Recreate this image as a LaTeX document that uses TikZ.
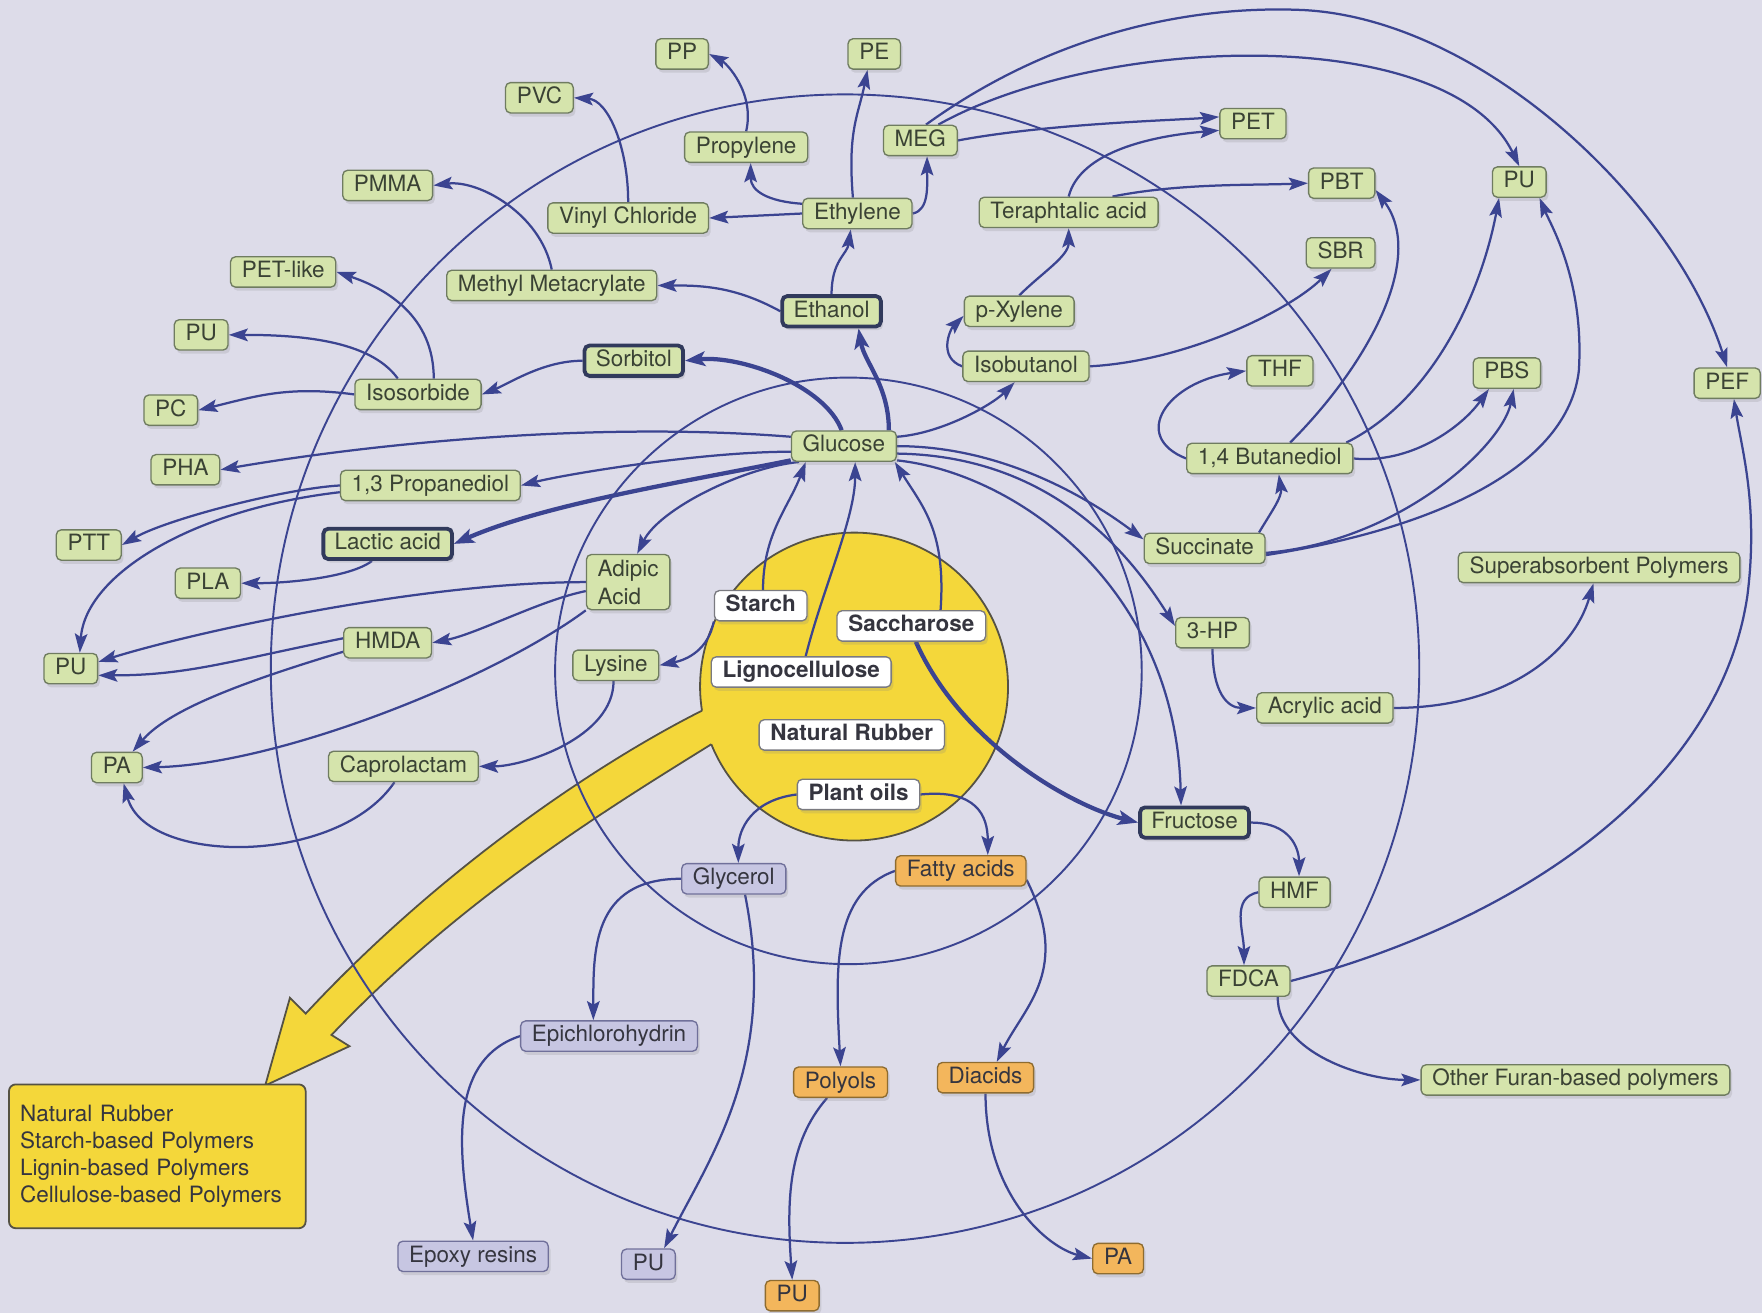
\documentclass[tikz,border=0pt]{standalone}
\usepackage{fontspec}
\setmainfont{TeX Gyre Heros}
\usetikzlibrary{arrows.meta,shadows}
\definecolor{bgc}{HTML}{DDDCE9}
\definecolor{gfill}{HTML}{D5E4AC}
\definecolor{gdraw}{HTML}{6F7C60}
\definecolor{gtext}{HTML}{3A4234}
\definecolor{tbord}{HTML}{313A5C}
\definecolor{lfill}{HTML}{C7C6E2}
\definecolor{ldraw}{HTML}{70709A}
\definecolor{ofill}{HTML}{F3B65C}
\definecolor{odraw}{HTML}{8E6C30}
\definecolor{ylw}{HTML}{F4D73A}
\definecolor{ydraw}{HTML}{555244}
\definecolor{navy}{HTML}{3B4491}
\definecolor{wdraw}{HTML}{7A7A80}
\definecolor{dtext}{HTML}{35353F}
\pgfdeclarelayer{bg}
\pgfdeclarelayer{edges}
\pgfsetlayers{bg,edges,main}
\begin{document}
\begin{tikzpicture}[x=0.5pt,y=-0.5pt,
  boxcore/.style={rounded corners=2.2pt, inner xsep=5pt, inner ysep=0pt,
    minimum height=13.5pt, font=\fontsize{10}{12.5}\selectfont, line width=0.6pt,
    drop shadow={shadow xshift=1pt, shadow yshift=-1.6pt, opacity=0.2}},
  sl/.style={text height=7.3pt, text depth=2.1pt},
  gcol/.style={fill=gfill, draw=gdraw, text=gtext},
  gnode/.style={boxcore, sl, gcol},
  gthick/.style={gnode, draw=tbord, line width=1.7pt},
  wnode/.style={boxcore, sl, fill=white, draw=wdraw, text=dtext,
    font=\fontsize{10}{12}\selectfont\bfseries},
  lnode/.style={boxcore, sl, fill=lfill, draw=ldraw, text=dtext},
  onode/.style={boxcore, sl, fill=ofill, draw=odraw, text=dtext},
  legendbox/.style={rounded corners=3pt, fill=ylw, draw=ydraw, line width=0.8pt,
    minimum width=132pt, minimum height=64pt, align=left, text width=122pt,
    inner xsep=5pt, text=dtext, font=\fontsize{10}{12}\selectfont},
  arr/.style={draw=navy, line width=1pt, -{Stealth[length=8.5pt,width=5.6pt,inset=1.6pt]}},
  tarr/.style={draw=navy, line width=1.9pt, -{Stealth[length=9pt,width=6.5pt,inset=2pt]}},
  ring/.style={draw=navy, line width=0.85pt}
]
\useasboundingbox (0,0) rectangle (1568,1168);

% ---------- background, yellow disk and rings ----------
\begin{pgfonlayer}{bg}
\fill[bgc] (0,0) rectangle (1568,1168);
\fill[ylw] (624.7,632.4) .. controls (530,680) and (390,775) .. (272,902) -- (258,888) -- (236,966) -- (311,931) -- (295,921) .. controls (410,800) and (540,720) .. (633.0,662.3) -- cycle;
\fill[ylw] (760,611) circle[radius=137];
\draw[ydraw, line width=0.8pt, line join=miter] (624.7,632.4) .. controls (530,680) and (390,775) .. (272,902) -- (258,888) -- (236,966) -- (311,931) -- (295,921) .. controls (410,800) and (540,720) .. (633.0,662.3);
\draw[ydraw, line width=0.8pt] (624.7,632.4) arc[start angle=171, end angle=518, radius=137];
\draw[ring] (752,595) circle[radius=511];
\draw[ring] (755,597) circle[radius=261];
\end{pgfonlayer}

% ---------- nodes ----------
\node[gnode] (pp) at (607,48) {PP};
\node[gnode] (pe) at (778,48) {PE};
\node[gnode] (pvc) at (480,87) {PVC};
\node[gnode] (prop) at (664,131) {Propylene};
\node[gnode] (meg) at (819,125) {MEG};
\node[gnode] (pet) at (1115,110) {PET};
\node[gnode] (pmma) at (345,165) {PMMA};
\node[gnode] (vc) at (559,194) {Vinyl Chloride};
\node[gnode] (eth) at (763,190) {Ethylene};
\node[gnode] (ta) at (951,189) {Teraphtalic acid};
\node[gnode] (pbt) at (1194,163) {PBT};
\node[gnode] (pu1) at (1352,162) {PU};
\node[gnode] (sbr) at (1193,225) {SBR};
\node[gnode] (petl) at (252,242) {PET-like};
\node[gnode] (mm) at (491,254) {Methyl Metacrylate};
\node[gthick] (etoh) at (740,277) {Ethanol};
\node[gnode] (px) at (907,277) {p-Xylene};
\node[gnode] (pu2) at (179,298) {PU};
\node[gthick] (sorb) at (564,321) {Sorbitol};
\node[gnode] (iso) at (372,351) {Isosorbide};
\node[gnode] (ibu) at (913,326) {Isobutanol};
\node[gnode] (thf) at (1139,330) {THF};
\node[gnode] (pbs) at (1341,332) {PBS};
\node[gnode] (pef) at (1537,341) {PEF};
\node[gnode] (pc) at (152,365) {PC};
\node[gnode] (glu) at (751,397) {Glucose};
\node[gnode] (pha) at (165,418) {PHA};
\node[gnode] (pdo) at (383,432) {1,3 Propanediol};
\node[gnode] (bdo) at (1130,408) {1,4 Butanediol};
\node[gnode] (ptt) at (79,485) {PTT};
\node[gthick] (lac) at (345,484) {Lactic acid};
\node[gnode] (succ) at (1072,488) {Succinate};
\node[gnode] (sap) at (1423,505) {Superabsorbent Polymers};
\node[gnode] (pla) at (185,519) {PLA};
\node[boxcore, gcol, align=left, inner ysep=2.3pt] (adip) at (559,518) {Adipic\\Acid};
\node[gnode] (hp) at (1079,563) {3-HP};
\node[gnode] (hmda) at (345,572) {HMDA};
\node[gnode] (pu3) at (63,595) {PU};
\node[gnode] (lys) at (548,592) {Lysine};
\node[gnode] (acr) at (1179,630) {Acrylic acid};
\node[gnode] (pa1) at (104,683) {PA};
\node[gnode] (capro) at (359,682) {Caprolactam};
\node[gthick] (fru) at (1063,732) {Fructose};
\node[gnode] (hmf) at (1152,794) {HMF};
\node[gnode] (fdca) at (1111,873) {FDCA};
\node[gnode] (other) at (1402,961) {Other Furan-based polymers};

\node[wnode] (starch) at (677,539) {Starch};
\node[wnode] (sacch) at (811,557) {Saccharose};
\node[wnode] (ligno) at (713,598) {Lignocellulose};
\node[wnode] (nr) at (758,654) {Natural Rubber};
\node[wnode] (oils) at (764,707) {Plant oils};

\node[lnode] (glyc) at (653,782) {Glycerol};
\node[lnode] (epi) at (542,922) {Epichlorohydrin};
\node[lnode] (epoxy) at (421,1118) {Epoxy resins};
\node[lnode] (pu4) at (577,1125) {PU};

\node[onode] (fatty) at (855,775) {Fatty acids};
\node[onode] (polyols) at (748,963) {Polyols};
\node[onode] (diacids) at (877,959) {Diacids};
\node[onode] (pu5) at (705,1153) {PU};
\node[onode] (pa2) at (995,1120) {PA};

\node[legendbox] (leg) at (140,1029) {Natural Rubber\\Starch-based Polymers\\Lignin-based Polymers\\Cellulose-based Polymers};

% ---------- connectors ----------
\begin{pgfonlayer}{edges}
% top cluster
\draw[arr] (vc.north) .. controls +(0,-50) and +(30,2) .. (pvc.east);
\draw[arr] (prop.north) .. controls +(8,-35) and +(15,8) .. (pp.east);
\draw[arr] (eth.170) .. controls +(-30,-2) and +(0,25) .. ([xshift=2pt]prop.south);
\draw[arr] (eth.west) -- (vc.east);
\draw[arr] ([xshift=-2pt]eth.north) .. controls +(-5,-60) and +(-8,40) .. ([xshift=-3pt]pe.south);
\draw[arr] (eth.east) .. controls +(15,-3) and +(0,25) .. ([xshift=3pt]meg.south);
\draw[arr] (etoh.north) .. controls +(0,-30) and +(-3,22) .. ([xshift=-3pt]eth.south);
\draw[arr] (etoh.west) .. controls +(-40,-22) and +(40,0) .. (mm.east);
\draw[arr] (mm.north) .. controls +(-10,-50) and +(40,-5) .. (pmma.east);
\draw[arr] (meg.east) .. controls +(80,-15) and +(-40,3) .. ([yshift=3pt]pet.west);
\draw[arr] (ta.north) .. controls +(10,-40) and +(-60,5) .. ([yshift=-3pt]pet.west);
\draw[arr] ([xshift=19.5pt]ta.north) .. controls +(60,-12) and +(-50,2) .. (pbt.west);
\draw[arr] ([xshift=8pt]meg.north) .. controls (980,30) and (1290,20) .. (pu1.north);
\draw[arr] ([xshift=2.5pt]meg.north) .. controls (950,20) and (1080,5) .. (1161,9) .. controls (1320,18) and (1490,180) .. (pef.north);
\draw[arr] (px.north) .. controls +(20,-20) and +(0,25) .. (ta.south);
\draw[arr] (ibu.west) .. controls +(-22,-8) and +(-12,12) .. ([yshift=-2pt]px.west);
\draw[arr] (glu.10) .. controls +(40,-3) and +(-20,20) .. ([xshift=-5pt]ibu.south);
\draw[arr] (ibu.east) .. controls +(90,-5) and +(-35,35) .. ([xshift=-4pt]sbr.south);
\draw[tarr] ([xshift=-1pt]glu.north) .. controls +(-15,-40) and +(50,-5) .. (sorb.east);
\draw[tarr] ([xshift=20pt]glu.north) .. controls +(0,-40) and +(5,30) .. ([xshift=12pt]etoh.south);
% left upper
\draw[arr] (sorb.west) .. controls +(-35,0) and +(25,-10) .. (iso.east);
\draw[arr] ([xshift=7pt]iso.north) .. controls +(0,-55) and +(45,15) .. (petl.east);
\draw[arr] ([xshift=-9pt]iso.north) .. controls +(-25,-35) and +(60,0) .. (pu2.east);
\draw[arr] (iso.west) .. controls +(-60,-8) and +(50,-12) .. (pc.east);
\draw[arr] (glu.170) .. controls +(-175,-14) and +(134,-23) .. (pha.east);
\draw[arr] (glu.186) .. controls +(-80,0) and +(40,-10) .. (pdo.east);
\draw[tarr] (glu.195) .. controls +(-100,20) and +(80,-35) .. (lac.east);
\draw[arr] ([xshift=-20pt]glu.south) .. controls +(-50,5) and +(20,-40) .. ([xshift=4pt]adip.north);
% into glucose
\draw[arr] ([xshift=1pt]starch.north) .. controls +(0,-50) and +(-15,40) .. ([xshift=-17pt]glu.south);
\draw[arr] ([xshift=2pt]ligno.north) .. controls +(15,-60) and +(0,50) .. ([xshift=5pt]glu.south);
\draw[arr] ([xshift=13pt]sacch.north) .. controls +(5,-70) and +(25,40) .. ([xshift=-1pt]glu.south east);
\draw[tarr] ([xshift=2pt]sacch.south) .. controls +(40,90) and +(-60,-15) .. (fru.west);
% glucose right
\draw[arr] (glu.east) .. controls +(100,0) and +(-40,-30) .. ([yshift=4pt]succ.west);
\draw[arr] (glu.352) .. controls +(143,2) and +(-36,-57) .. ([yshift=3pt]hp.west);
\draw[arr] (glu.345) .. controls +(103,11) and +(-5,-198) .. ([xshift=-6pt]fru.north);
% right cluster
\draw[arr] ([xshift=-3pt]succ.north east) .. controls +(12,-20) and +(3,20) .. ([xshift=4pt]bdo.south);
\draw[arr] (bdo.west) .. controls +(-50,-20) and +(-70,10) .. (thf.west);
\draw[arr] ([xshift=9pt]bdo.north) .. controls +(70,-70) and +(45,60) .. ([yshift=-3pt]pbt.east);
\draw[arr] ([xshift=34pt]bdo.north) .. controls +(80,-40) and +(-15,80) .. ([xshift=-9pt]pu1.south);
\draw[arr] (bdo.east) .. controls +(50,5) and +(-25,35) .. ([xshift=-8pt]pbs.south);
\draw[arr] ([yshift=-2pt]succ.east) .. controls +(120,-10) and +(-10,50) .. ([xshift=3pt]pbs.south);
\draw[arr] ([yshift=-3pt]succ.east) .. controls (1280,470) and (1395,415) .. (1405,330) .. controls (1410,250) and (1380,200) .. ([xshift=9pt]pu1.south);
\draw[arr] (hp.south) .. controls +(0,40) and +(-25,0) .. (acr.west);
\draw[arr] (acr.east) .. controls +(100,0) and +(-18,62) .. ([xshift=-2.5pt]sap.south);
\draw[arr] (fru.east) .. controls +(35,0) and +(0,-25) .. ([xshift=2pt]hmf.north);
\draw[arr] (hmf.west) .. controls +(-25,5) and +(0,-30) .. ([xshift=-2pt]fdca.north);
\draw[arr] (fdca.east) .. controls (1350,820) and (1530,700) .. (1555,530) .. controls (1565,450) and (1550,400) .. ([xshift=3pt]pef.south);
\draw[arr] ([xshift=13pt]fdca.south) .. controls +(0,50) and +(-50,0) .. (other.west);
% plant oils branch
\draw[arr] (oils.west) .. controls +(-40,5) and +(0,-30) .. ([xshift=2pt]glyc.north);
\draw[arr] (oils.east) .. controls +(50,-5) and +(0,-35) .. ([xshift=12pt]fatty.north);
\draw[arr] (glyc.west) .. controls +(-80,0) and +(0,-60) .. ([xshift=-7pt]epi.north);
\draw[arr] ([xshift=5pt]glyc.south) .. controls +(30,150) and +(40,-80) .. ([xshift=7pt]pu4.north);
\draw[arr] (epi.west) .. controls +(-60,20) and +(-15,-90) .. (epoxy.north);
\draw[arr] (fatty.west) .. controls +(-55,20) and +(-5,-90) .. (polyols.north);
\draw[arr] ([yshift=-4pt]fatty.east) .. controls +(40,80) and +(25,-50) .. ([xshift=5pt]diacids.north);
\draw[arr] ([xshift=-6pt]polyols.south) .. controls +(-35,40) and +(-5,-70) .. (pu5.north);
\draw[arr] (diacids.south) .. controls +(0,90) and +(-40,-10) .. (pa2.west);
% left lower
\draw[arr] ([xshift=-7pt]lac.south) .. controls +(-20,15) and +(40,0) .. (pla.east);
\draw[arr] (pdo.west) .. controls +(-50,3) and +(40,-23) .. (ptt.east);
\draw[arr] ([yshift=-3pt]pdo.west) .. controls +(-130,15) and +(5,-70) .. ([xshift=4pt]pu3.north);
\draw[arr] (adip.west) .. controls +(-150,0) and +(80,-25) .. ([yshift=3pt]pu3.east);
\draw[arr] ([yshift=-4pt]adip.west) .. controls +(-40,8) and +(40,-8) .. (hmda.east);
\draw[arr] (adip.south west) .. controls +(-82,61) and +(122,-3) .. (pa1.east);
\draw[arr] ([yshift=2pt]hmda.west) .. controls +(-100,20) and +(80,0) .. ([yshift=-3pt]pu3.east);
\draw[arr] ([yshift=-4pt]hmda.west) .. controls +(-100,30) and +(30,-35) .. ([xshift=7pt]pa1.north);
\draw[arr] ([xshift=-1pt]lys.south) .. controls +(0,50) and +(40,0) .. (capro.east);
\draw[arr] (starch.south west) .. controls +(-5,25) and +(25,-5) .. (lys.east);
\draw[arr] ([xshift=-4pt]capro.south) .. controls +(-51,75) and +(20,73) .. ([xshift=3pt]pa1.south);
\end{pgfonlayer}
\end{tikzpicture}
\end{document}
